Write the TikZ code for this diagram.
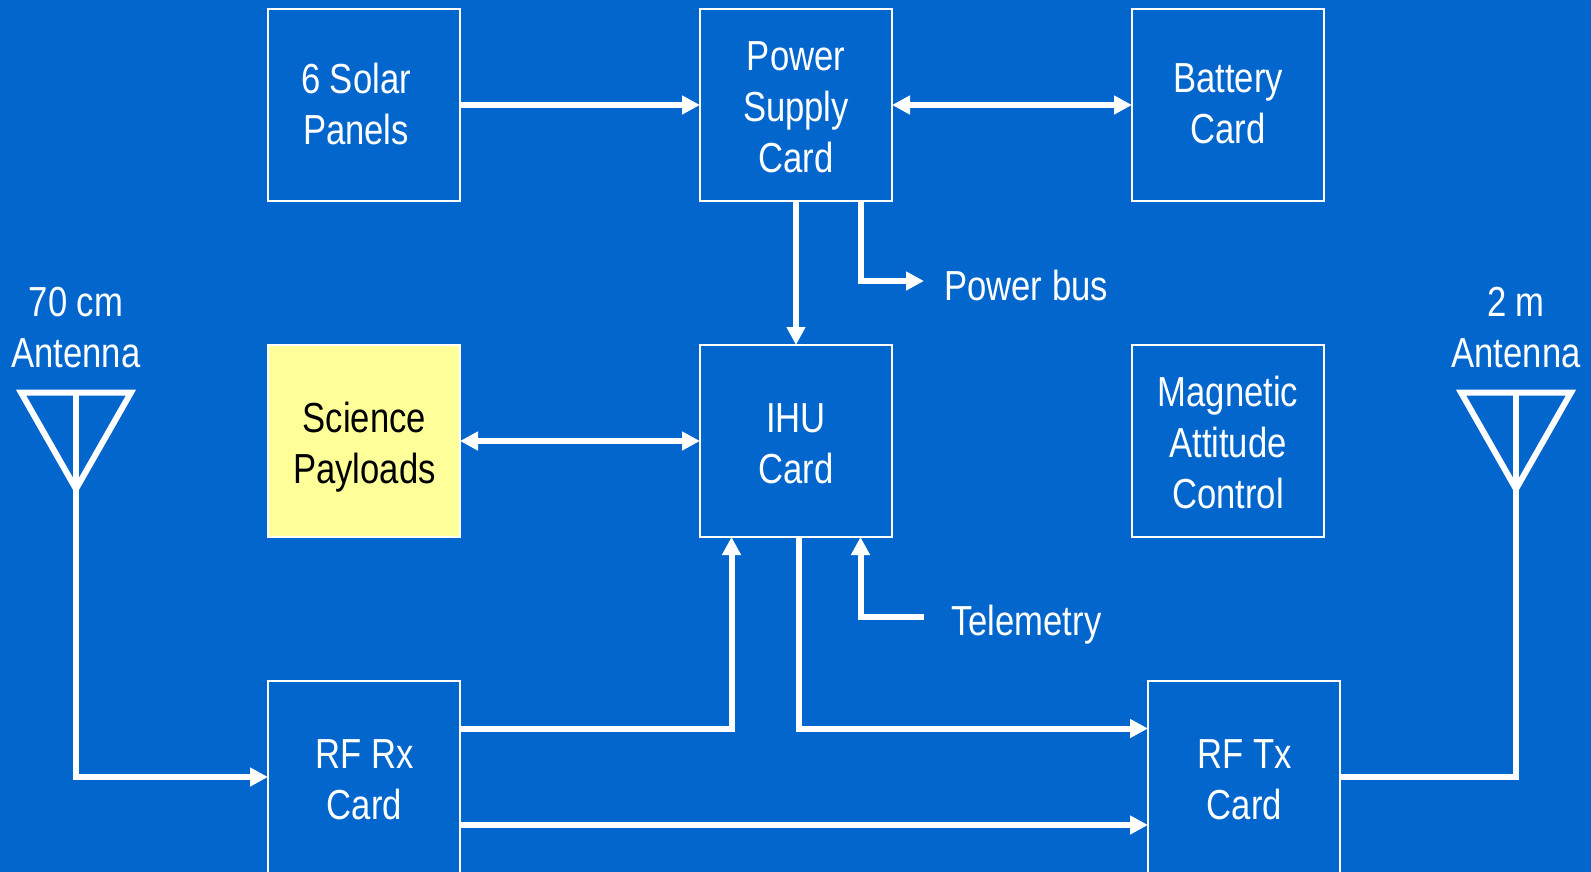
\documentclass[tikz,border=0pt]{standalone}
\usepackage{fontspec}
\setmainfont[FakeStretch=0.825]{Liberation Sans}
\usetikzlibrary{arrows.meta}
\definecolor{bgblue}{RGB}{3,102,204}
\definecolor{payload}{RGB}{255,255,153}
\tikzset{
  x=1pt,y=-1pt,
  txt/.style={font=\fontsize{42}{51}\selectfont,text=white,align=center,inner sep=0pt},
  dark/.style={txt,text=black},
  card/.style={draw=white,line width=2.2pt,fill=bgblue,minimum width=192pt,minimum height=192pt,inner sep=0pt,outer sep=0pt},
  hot/.style={card,fill=payload},
  wire/.style={draw=white,line width=6pt,line join=miter},
  one/.style={wire,-{Triangle[length=18pt,width=18pt]}},
  two/.style={wire,{Triangle[length=18pt,width=18pt]}-{Triangle[length=18pt,width=18pt]}},
  aerial/.style={draw=white,line width=6pt,line join=miter,miter limit=10}
}
\begin{document}
\begin{tikzpicture}
\useasboundingbox[fill=bgblue] (0,0) rectangle (1591,872);
\node[card] (solar) at (364,105) {};
\node[card] (power) at (796,105) {};
\node[card] (battery) at (1228,105) {};
\node[hot] (science) at (364,441) {};
\node[card] (ihu) at (796,441) {};
\node[card] (magnetic) at (1228,441) {};
\node[card] (rx) at (364,777) {};
\node[card] (tx) at (1244,777) {};
\node[txt] (solartxt) at (356,103.5) {6 Solar\\Panels};
\node[txt] (powertxt) at (796,107) {Power\\Supply\\Card};
\node[txt] (batterytxt) at (1228,104) {Battery\\Card};
\node[dark] (sciencetxt) at (364.5,447) {Science\\Payloads};
\node[txt] (ihutxt) at (796,444) {IHU\\Card};
\node[txt] (magnetictxt) at (1228,442) {Magnetic\\Attitude\\Control};
\node[txt] (rxtxt) at (364.5,780) {RF Rx\\Card};
\node[txt] (txtxt) at (1244.5,780) {RF Tx\\Card};
\node[txt] (lant) at (76,328) {70 cm\\Antenna};
\node[txt] (rant) at (1516,328) {2 m\\Antenna};
\node[txt,anchor=west] (pbus) at (944,285) {Power bus};
\node[txt,anchor=west] (telem) at (951,625) {Telemetry};
\coordinate (pbusend) at (924,281);
\coordinate (telstart) at (924,617);
\coordinate (ltop) at (76,392.5);
\coordinate (lapex) at (76,489);
\coordinate (lleft) at (21,392.5);
\coordinate (lright) at (131,392.5);
\coordinate (rtop) at (1516,392.5);
\coordinate (rapex) at (1516,489);
\coordinate (rleft) at (1461,392.5);
\coordinate (rright) at (1571,392.5);

\draw[one] (solar.east |- 0,105) -- (power.west |- 0,105);
\draw[two] (power.east |- 0,105) -- (battery.west |- 0,105);
\draw[one] (power.south) -- (ihu.north);
\draw[one] (860.5,0 |- power.south) |- (pbusend);
\draw[two] (science.east) -- (ihu.west);
\draw[one] (telstart) -| (860.5,0 |- ihu.south);
\draw[one] (rx.east |- 0,728.5) -| (731.5,0 |- ihu.south);
\draw[one] (798.5,0 |- ihu.south) |- (tx.west |- 0,728.5);
\draw[one] (rx.east |- 0,825) -- (tx.west |- 0,825);
\draw[one] (ltop) |- (rx.west);
\draw[wire] (tx.east) -| (rtop);
\draw[aerial] (lapex) -- (lleft) -- (lright) -- cycle;
\draw[aerial] (rapex) -- (rleft) -- (rright) -- cycle;
\end{tikzpicture}
\end{document}
